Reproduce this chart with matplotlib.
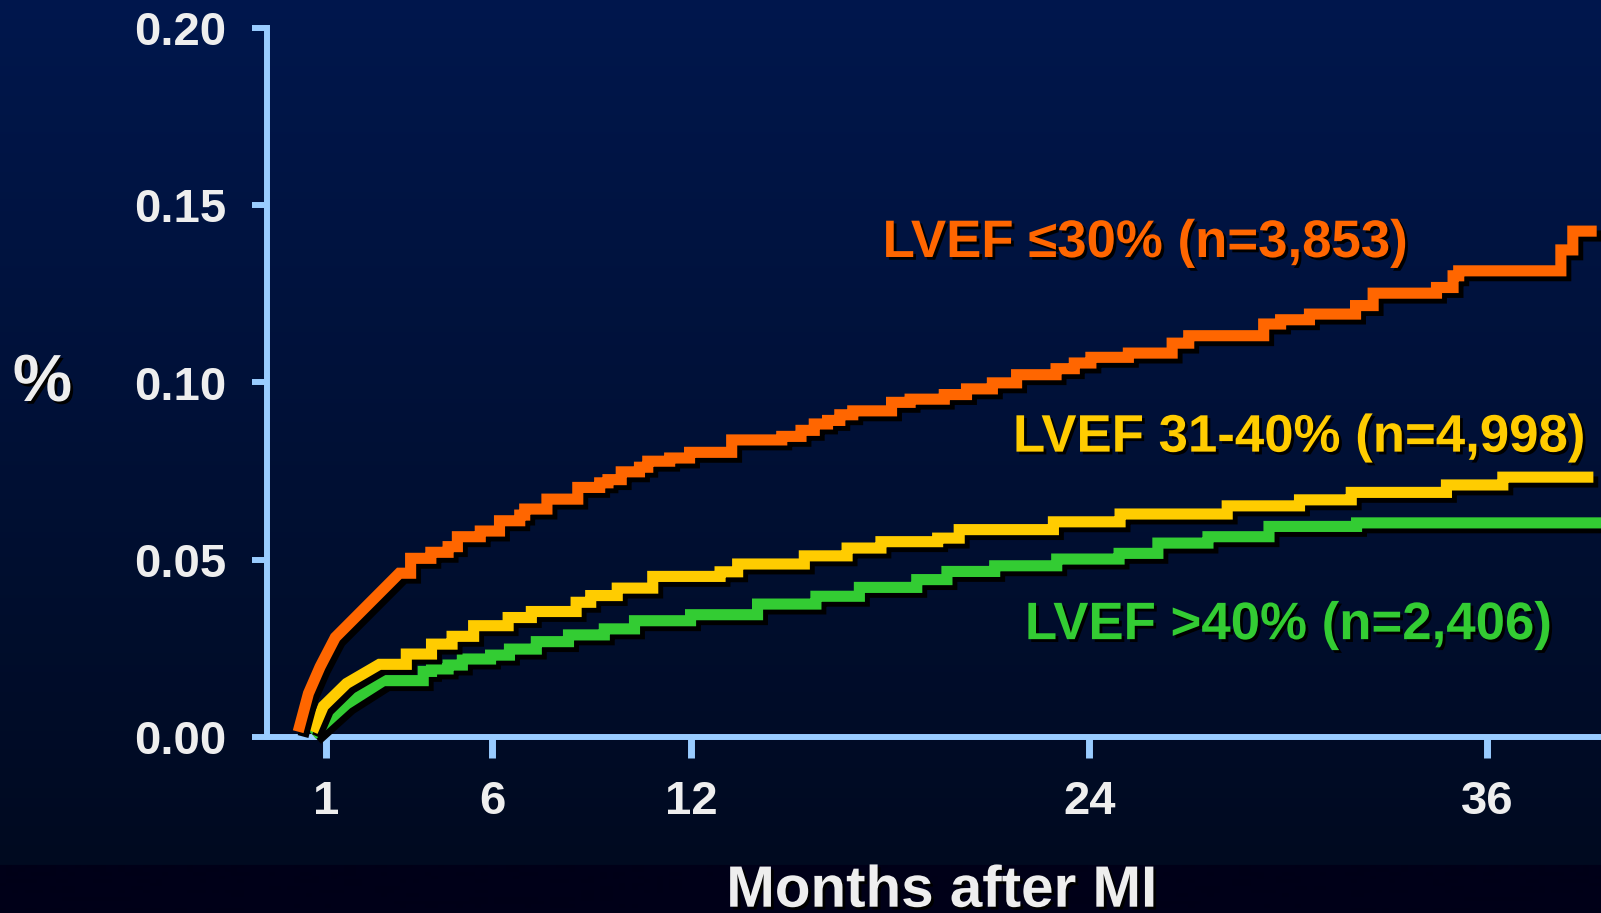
import numpy as np
import matplotlib
matplotlib.use("Agg")
import matplotlib.pyplot as plt
import matplotlib.patheffects as pe

plt.rcParams["font.family"] = ["Liberation Sans", "DejaVu Sans"]
plt.rcParams["font.weight"] = "bold"

# ---- data (months after MI, cumulative event rate) ----
xticks = [1, 6, 12, 24, 36]
yticks = [0.00, 0.05, 0.10, 0.15, 0.20]

orange_curve_m = [0.15, 0.46, 0.81, 1.27, 3.2]
orange_curve_v = [0.0015, 0.0123, 0.0198, 0.0281, 0.0462]
orange_step_m = [3.54, 4.15, 4.67, 4.95, 5.64, 6.22, 6.83, 6.98, 7.65, 8.58,
                 9.24, 9.49, 9.89, 10.44, 10.69, 11.35, 11.95, 13.22, 14.73, 15.31,
                 15.71, 16.11, 16.48, 16.87, 18.04, 18.6, 19.63, 20.3, 21.08, 21.81,
                 23.0, 23.55, 24.05, 25.18, 26.5, 27.0, 29.26, 29.77, 30.64, 32.03,
                 32.56, 34.47, 34.97, 35.14, 38.22, 38.58]
orange_step_v = [0.0504, 0.0521, 0.0537, 0.0565, 0.0581, 0.0610, 0.0626, 0.0643, 0.0671, 0.0704,
                 0.0717, 0.0726, 0.0748, 0.0761, 0.0778, 0.0787, 0.0803, 0.0838, 0.0848, 0.0865,
                 0.0883, 0.0893, 0.0909, 0.0920, 0.0944, 0.0953, 0.0966, 0.0982, 0.0999, 0.1022,
                 0.1039, 0.1055, 0.1071, 0.1083, 0.1111, 0.1132, 0.1165, 0.1177, 0.1193, 0.1217,
                 0.1252, 0.1268, 0.1301, 0.1315, 0.1374, 0.1427]

yellow_curve_m = [0.58, 0.91, 1.61, 2.6]
yellow_curve_v = [0.0015, 0.0087, 0.0151, 0.0205]
yellow_step_m = [3.41, 4.17, 4.79, 5.44, 6.48, 7.18, 8.53, 8.97, 9.77, 10.84,
                 12.87, 13.4, 15.41, 16.7, 17.72, 19.43, 20.08, 22.92, 24.93, 28.16,
                 30.34, 31.9, 34.77, 36.47]
yellow_step_v = [0.0234, 0.0262, 0.0284, 0.0314, 0.0337, 0.0354, 0.0380, 0.0399, 0.0420, 0.0453,
                 0.0466, 0.0488, 0.0511, 0.0533, 0.0551, 0.0561, 0.0585, 0.0607, 0.0629, 0.0652,
                 0.0669, 0.0690, 0.0711, 0.0733]

green_curve_m = [0.58, 1.61, 2.72]
green_curve_v = [0.0006, 0.0093, 0.0159]
green_step_m = [3.92, 4.17, 4.67, 5.1, 5.95, 6.52, 7.33, 8.3, 9.38, 10.29,
                11.98, 14.0, 15.76, 17.07, 18.8, 19.71, 21.15, 23.02, 24.9, 26.07,
                27.58, 29.42, 32.06]
green_step_v = [0.0185, 0.0192, 0.0203, 0.0220, 0.0231, 0.0248, 0.0269, 0.0288, 0.0305, 0.0328,
                0.0345, 0.0375, 0.0397, 0.0422, 0.0444, 0.0467, 0.0483, 0.0502, 0.0518, 0.0547,
                0.0565, 0.0594, 0.0604]

end_m = {"orange": 39.3, "yellow": 39.2, "green": 39.5}


def staircase(curve_m, curve_v, step_m, step_v, last_m):
    xs, ys = list(curve_m), list(curve_v)
    for m, v in zip(step_m, step_v):
        xs += [m, m]
        ys += [ys[-1], v]
    xs.append(last_m)
    ys.append(ys[-1])
    return xs, ys


W, H = 1601, 913
fig = plt.figure(figsize=(W / 100, H / 100), dpi=100)

# background: blue gradient with a darker band at the bottom
bg = fig.add_axes([0, 0, 1, 1], zorder=-10)
rows = np.arange(H)
top = np.array([0, 23, 77]) / 255
low = np.array([0, 10, 32]) / 255
band = np.array([0, 0, 24]) / 255
t = np.clip(rows / 864, 0, 1)[:, None]
grad = top * (1 - t) + low * t
grad[865:] = band
bg.imshow(grad[:, None, :], aspect="auto", extent=[0, 1, 0, 1])
bg.set_axis_off()

axis_col = "#99ccff"
txt_col = "#eeeeee"
shadow_txt = [pe.withSimplePatchShadow(offset=(2, -2), shadow_rgbFace="black", alpha=1)]

ax = fig.add_axes([267 / W, 1 - 737 / H, 1 - 267 / W, (737 - 28) / H])
ax.patch.set_alpha(0)
ax.set_xlim(-0.79, 39.43)
ax.set_ylim(0, 0.20)

series = [
    ("green", "#33cc33", green_curve_m, green_curve_v, green_step_m, green_step_v),
    ("yellow", "#ffcc00", yellow_curve_m, yellow_curve_v, yellow_step_m, yellow_step_v),
    ("orange", "#ff6600", orange_curve_m, orange_curve_v, orange_step_m, orange_step_v),
]
for name, col, cm, cv, sm, sv in series:
    xs, ys = staircase(cm, cv, sm, sv, end_m[name])
    ax.plot(xs, ys, color=col, lw=8, solid_joinstyle="miter", solid_capstyle="butt",
            clip_on=False, zorder=3,
            path_effects=[pe.SimpleLineShadow(offset=(3.5, -3.5), shadow_color="black", alpha=1),
                          pe.Normal()])

for s in ["top", "right"]:
    ax.spines[s].set_visible(False)
for s in ["left", "bottom"]:
    ax.spines[s].set_color(axis_col)
    ax.spines[s].set_linewidth(4.3)

ax.set_xticks(xticks)
ax.set_xticklabels([str(x) for x in xticks])
ax.set_yticks(yticks)
ax.set_yticklabels([f"{y:.2f}" for y in yticks])
ax.tick_params(axis="x", direction="out", length=15, width=5, color=axis_col,
               pad=16, labelsize=34, labelcolor=txt_col)
ax.tick_params(axis="y", direction="out", length=11, width=4.3, color=axis_col,
               pad=18, labelsize=34, labelcolor=txt_col)
for lab in ax.get_xticklabels() + ax.get_yticklabels():
    lab.set_fontweight("bold")

# series labels
ax.text(17.77, 0.1354, "LVEF \u226430% (n=3,853)", color="#ff6600", fontsize=38,
        fontweight="bold", va="baseline", ha="left", path_effects=shadow_txt)
ax.text(21.7, 0.0805, "LVEF 31-40% (n=4,998)", color="#ffcc00", fontsize=38,
        fontweight="bold", va="baseline", ha="left", path_effects=shadow_txt)
ax.text(22.06, 0.0276, "LVEF >40% (n=2,406)", color="#33cc33", fontsize=38,
        fontweight="bold", va="baseline", ha="left", path_effects=shadow_txt)

fig.text(42.5 / W, 1 - 384 / H, "%", color=txt_col, fontsize=48, fontweight="bold",
         ha="center", va="center", path_effects=shadow_txt)
fig.text(942 / W, 1 - 906.7 / H, "Months after MI", color=txt_col, fontsize=42,
         fontweight="bold", ha="center", va="baseline", path_effects=shadow_txt)

fig.savefig("out.png", dpi=100)
